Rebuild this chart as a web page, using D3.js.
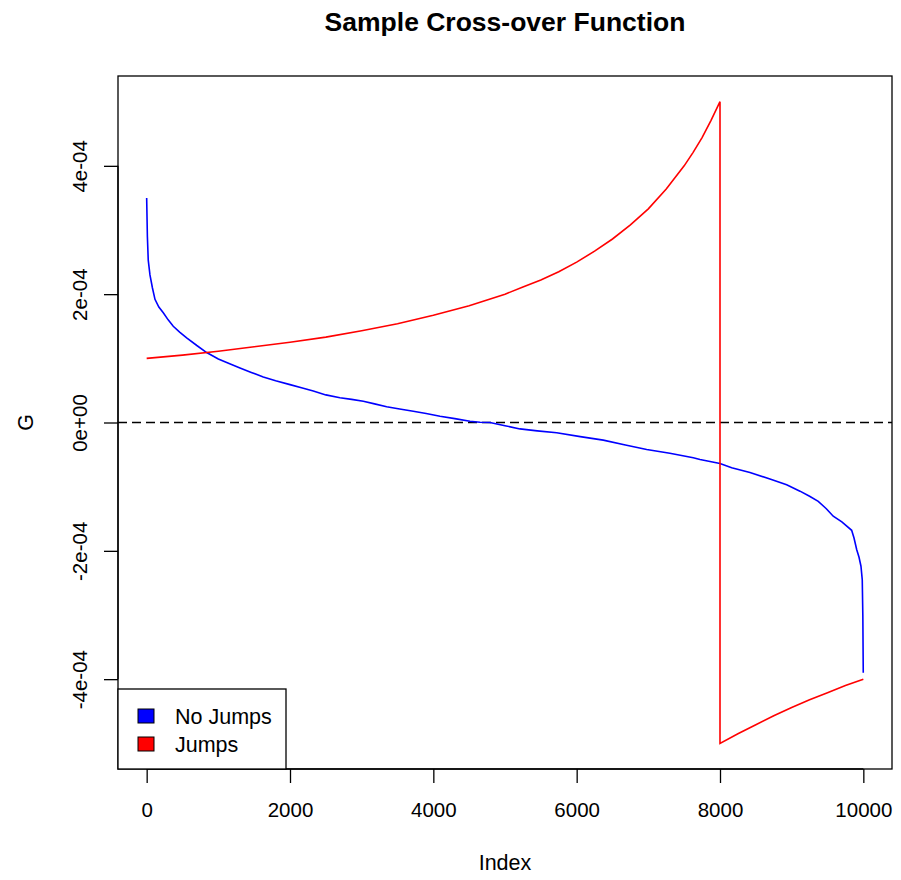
<!DOCTYPE html>
<html>
<head>
<meta charset="utf-8">
<style>
  body { margin: 0; background: #fff; }
  text { font-family: "Liberation Sans", Arial, Helvetica, sans-serif; }
</style>
</head>
<body>
<div id="chart"></div>
<script src="https://cdnjs.cloudflare.com/ajax/libs/d3/7.8.5/d3.min.js"></script>
<script>

// ***************
// Data (values in units of G)
// ***************

var noJumpsIndex = [0, 10, 22, 46, 80, 116, 170, 232, 300, 371, 460, 558, 700, 837, 1000, 1150, 1302,
                    1460, 1627, 1800, 2000, 2160, 2325, 2500, 2697, 2860, 3023, 3180, 3349, 3530,
                    3720, 3900, 4093, 4300, 4511, 4651, 4790, 5000, 5209, 5450, 5721, 6050, 6371,
                    6680, 6977, 7300, 7627, 7721, 8000, 8163, 8418, 8697, 8930, 9116, 9250, 9371,
                    9480, 9580, 9700, 9837, 9870, 9907, 9940, 9967, 9985, 9993, 9999];
var noJumpsG = [3.50e-4, 2.90e-4, 2.53e-4, 2.30e-4, 2.10e-4, 1.92e-4, 1.80e-4, 1.71e-4, 1.60e-4, 1.50e-4,
                1.41e-4, 1.32e-4, 1.20e-4, 1.09e-4, 0.99e-4, 0.92e-4, 0.85e-4,
                0.78e-4, 0.71e-4, 0.65e-4, 0.59e-4, 0.54e-4, 0.49e-4, 0.43e-4, 0.385e-4, 0.36e-4,
                0.33e-4, 0.29e-4, 0.245e-4, 0.21e-4, 0.176e-4, 0.14e-4, 0.098e-4, 0.06e-4, 0.02e-4,
                0.005e-4, 0.0, -0.05e-4, -0.10e-4, -0.13e-4, -0.16e-4, -0.22e-4, -0.275e-4,
                -0.35e-4, -0.42e-4, -0.48e-4, -0.55e-4, -0.576e-4, -0.64e-4, -0.706e-4, -0.78e-4,
                -0.88e-4, -0.97e-4, -1.07e-4, -1.15e-4, -1.23e-4, -1.34e-4, -1.46e-4, -1.55e-4,
                -1.68e-4, -1.80e-4, -1.98e-4, -2.10e-4, -2.24e-4, -2.45e-4, -3.00e-4, -3.90e-4];

var jumpsIndex = [0, 500, 1000, 1500, 2000, 2500, 3000, 3500, 4000, 4500, 5000, 5250, 5500, 5750,
                  6000, 6250, 6500, 6750, 7000, 7250, 7500, 7625, 7750, 7875, 8000,
                  8000, 8250, 8500, 8750, 9000, 9250, 9500, 9750, 10000];
var jumpsG = [1.00e-4, 1.05e-4, 1.11e-4, 1.18e-4, 1.25e-4, 1.33e-4, 1.43e-4, 1.54e-4, 1.67e-4, 1.82e-4,
              2.00e-4, 2.11e-4, 2.22e-4, 2.35e-4, 2.50e-4, 2.67e-4, 2.86e-4, 3.08e-4, 3.33e-4, 3.64e-4,
              4.00e-4, 4.21e-4, 4.44e-4, 4.71e-4, 5.00e-4,
              -5.00e-4, -4.85e-4, -4.71e-4, -4.57e-4, -4.44e-4, -4.32e-4, -4.21e-4, -4.10e-4, -4.00e-4];

var xTicks = [0, 2000, 4000, 6000, 8000, 10000];
var yTicks = [-4e-4, -2e-4, 0, 2e-4, 4e-4];
var yTickLabels = ["-4e-04", "-2e-04", "0e+00", "2e-04", "4e-04"];

var legendNames = ["No Jumps", "Jumps"];
var legendColors = ["blue", "red"];

// ***************
// Layout
// ***************

var W = 901, H = 880;
var marl = 118, marr = 9, mart = 76, marb = 111;
var ticksz = 20.5,
    labsz = 21.5;

var svg = d3.select("#chart").append("svg")
    .attr("width", W)
    .attr("height", H);

var x = d3.scaleLinear().domain([-400, 10400]).range([marl, W - marr]);
var y = d3.scaleLinear().domain([-5.4e-4, 5.4e-4]).range([H - marb, mart]);

// Title
svg.append("text")
    .attr("x", (marl + W - marr) / 2)
    .attr("y", 31)
    .attr("text-anchor", "middle")
    .attr("font-size", 26.5)
    .attr("font-weight", "bold")
    .text("Sample Cross-over Function");

// Axes (R style: ticks outward, axis line spanning first to last tick)
var xAxis = svg.append("g")
    .attr("transform", "translate(0," + (H - marb) + ")")
    .call(d3.axisBottom(x).tickValues(xTicks).tickSize(14).tickSizeOuter(0).tickPadding(19)
          .tickFormat(d3.format("d")));
xAxis.select(".domain").attr("d", "M" + x(0) + ",0H" + x(10000));

var yAxis = svg.append("g")
    .attr("transform", "translate(" + marl + ",0)")
    .call(d3.axisLeft(y).tickValues(yTicks).tickSize(14).tickSizeOuter(0)
          .tickFormat(function(d, i) { return yTickLabels[i]; }));
yAxis.select(".domain").attr("d", "M0," + y(-4e-4) + "V" + y(4e-4));
yAxis.selectAll(".tick text")
    .attr("x", null).attr("dy", null)
    .attr("transform", "translate(-31,0) rotate(-90)")
    .attr("text-anchor", "middle");

svg.selectAll(".tick text")
    .attr("font-size", ticksz)
    .attr("font-family", "Liberation Sans, Arial, sans-serif")
    .attr("fill", "black");
svg.selectAll(".tick line, .domain").attr("stroke", "black").attr("stroke-width", 1.3);

// Axis titles
svg.append("text")
    .attr("x", (marl + W - marr) / 2)
    .attr("y", 870)
    .attr("text-anchor", "middle")
    .attr("font-size", labsz)
    .text("Index");

svg.append("text")
    .attr("transform", "translate(33," + y(0) + ") rotate(-90)")
    .attr("text-anchor", "middle")
    .attr("font-size", labsz)
    .text("G");

// Reference line at zero
svg.append("line")
    .attr("x1", marl).attr("x2", W - marr)
    .attr("y1", y(0)).attr("y2", y(0))
    .attr("stroke", "black")
    .attr("stroke-width", 1.4)
    .attr("stroke-dasharray", "9,5");

// Series
var line = d3.line()
    .x(function(d) { return x(d[0]); })
    .y(function(d) { return y(d[1]); });

svg.append("path")
    .datum(d3.zip(noJumpsIndex, noJumpsG))
    .attr("d", line)
    .attr("fill", "none")
    .attr("stroke", "blue")
    .attr("stroke-width", 1.6);

svg.append("path")
    .datum(d3.zip(jumpsIndex, jumpsG))
    .attr("d", line)
    .attr("fill", "none")
    .attr("stroke", "red")
    .attr("stroke-width", 1.6);

// Plot box
svg.append("rect")
    .attr("x", marl).attr("y", mart)
    .attr("width", W - marr - marl).attr("height", H - marb - mart)
    .attr("fill", "none")
    .attr("stroke", "black")
    .attr("stroke-width", 1.3);

// Legend (bottom left)
var lg = svg.append("g");
lg.append("rect")
    .attr("x", marl).attr("y", 689)
    .attr("width", 168).attr("height", H - marb - 689)
    .attr("fill", "white")
    .attr("stroke", "black")
    .attr("stroke-width", 1.3);

lg.selectAll(".lkey")
    .data(legendNames)
    .enter()
    .append("rect")
    .attr("x", 138)
    .attr("y", function(d, i) { return 709 + i * 28; })
    .attr("width", 16).attr("height", 14)
    .attr("fill", function(d, i) { return legendColors[i]; })
    .attr("stroke", "black")
    .attr("stroke-width", 1);

lg.selectAll(".ltext")
    .data(legendNames)
    .enter()
    .append("text")
    .attr("x", 175)
    .attr("y", function(d, i) { return 724 + i * 28; })
    .attr("font-size", labsz)
    .text(function(d) { return d; });

</script>
</body>
</html>
